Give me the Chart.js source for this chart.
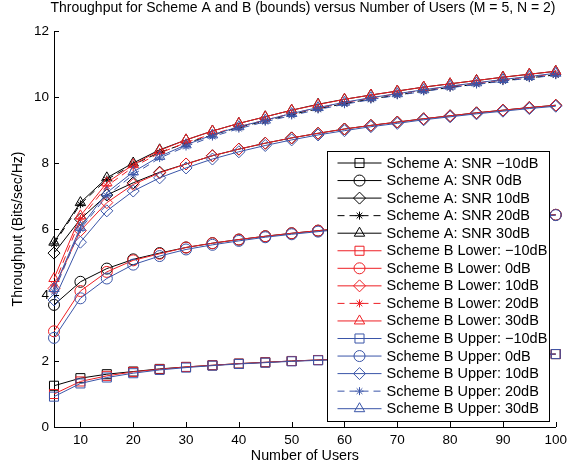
<!DOCTYPE html>
<html><head><meta charset="utf-8">
<script src="https://cdn.jsdelivr.net/npm/chart.js@4/dist/chart.umd.min.js"></script>
<style>html,body{margin:0;padding:0;background:#fff}#wrap{width:572px;height:463px}</style>
</head><body><div id="wrap"><canvas id="c" width="572" height="463"></canvas></div>
<script>
const chartTitle = "Throughput for Scheme A and B (bounds) versus Number of Users (M = 5, N = 2)";
const xLabel = "Number of Users";
const yLabel = "Throughput (Bits/sec/Hz)";
const users = [5,10,15,20,25,30,35,40,45,50,55,60,65,70,75,80,85,90,95,100];
const xTicks = [10,20,30,40,50,60,70,80,90,100];
const yTicks = [0,2,4,6,8,10,12];

const seriesNames = [
  "Scheme A: SNR \u221210dB","Scheme A: SNR 0dB","Scheme A: SNR 10dB","Scheme A: SNR 20dB","Scheme A: SNR 30dB",
  "Scheme B Lower: \u221210dB","Scheme B Lower: 0dB","Scheme B Lower: 10dB","Scheme B Lower: 20dB","Scheme B Lower: 30dB",
  "Scheme B Upper: \u221210dB","Scheme B Upper: 0dB","Scheme B Upper: 10dB","Scheme B Upper: 20dB","Scheme B Upper: 30dB"
];

const aM10 = [1.25,1.48,1.60,1.68,1.76,1.82,1.87,1.92,1.96,2.00,2.03,2.06,2.08,2.10,2.12,2.14,2.16,2.17,2.19,2.21];
const a0   = [3.70,4.40,4.80,5.08,5.27,5.44,5.57,5.68,5.78,5.87,5.95,6.02,6.08,6.14,6.20,6.25,6.30,6.35,6.39,6.43];
const a10  = [5.27,6.30,7.03,7.40,7.72,7.97,8.22,8.42,8.60,8.76,8.90,9.03,9.14,9.24,9.34,9.43,9.52,9.60,9.68,9.75];
const a20  = [5.55,6.75,7.50,7.95,8.32,8.60,8.85,9.08,9.28,9.47,9.64,9.80,9.94,10.06,10.18,10.29,10.39,10.49,10.58,10.67];
const a30  = [5.60,6.80,7.55,8.00,8.40,8.70,8.97,9.20,9.40,9.60,9.78,9.93,10.06,10.18,10.30,10.40,10.50,10.60,10.69,10.78];

const lM10 = [1.00,1.38,1.55,1.67,1.75,1.82,1.87,1.92,1.96,2.00,2.03,2.06,2.08,2.10,2.12,2.14,2.16,2.17,2.19,2.21];
const l0   = [2.90,4.12,4.70,5.05,5.25,5.44,5.57,5.68,5.78,5.87,5.95,6.02,6.08,6.14,6.20,6.25,6.30,6.35,6.39,6.43];
const l10  = [4.20,5.95,6.80,7.35,7.70,7.97,8.22,8.42,8.60,8.76,8.90,9.03,9.14,9.24,9.34,9.43,9.52,9.60,9.68,9.75];
const l20  = [4.30,6.30,7.30,7.88,8.30,8.62,8.88,9.10,9.30,9.50,9.67,9.83,9.97,10.10,10.21,10.32,10.42,10.52,10.61,10.70];
const l30  = [4.50,6.40,7.40,7.95,8.38,8.70,8.97,9.20,9.40,9.60,9.77,9.93,10.06,10.18,10.30,10.40,10.50,10.60,10.69,10.78];

const uM10 = [0.92,1.32,1.50,1.63,1.73,1.80,1.86,1.91,1.95,1.99,2.02,2.05,2.08,2.10,2.12,2.14,2.16,2.17,2.19,2.21];
const u0   = [2.70,3.90,4.50,4.92,5.18,5.38,5.52,5.64,5.75,5.84,5.92,6.00,6.07,6.13,6.19,6.24,6.29,6.34,6.38,6.42];
const u10  = [3.85,5.60,6.55,7.15,7.55,7.85,8.12,8.34,8.53,8.70,8.85,8.98,9.10,9.20,9.31,9.40,9.49,9.57,9.65,9.72];
const u20  = [4.10,6.00,7.00,7.65,8.15,8.50,8.80,9.04,9.25,9.44,9.62,9.78,9.92,10.05,10.17,10.28,10.38,10.48,10.57,10.66];
const u30  = [4.20,6.05,7.10,7.73,8.20,8.55,8.85,9.10,9.30,9.50,9.68,9.84,9.98,10.10,10.22,10.33,10.43,10.53,10.62,10.72];

const seriesValues = [aM10,a0,a10,a20,a30,lM10,l0,l10,l20,l30,uM10,u0,u10,u20,u30];
const colors = ['#000000','#ee1f24','#3a55a8'];
const styles = ['rect','circle','rectRot','star','triangle'];
const radii = [6.4,5.5,6,4,6];

const FONT = "'Liberation Sans', Arial, Helvetica, sans-serif";

const datasets = seriesValues.map((vals, i) => {
  const g = Math.floor(i/5), k = i%5;
  return {
    label: seriesNames[i],
    data: users.map((u, j) => ({x: u, y: vals[j]})),
    borderColor: colors[g],
    backgroundColor: 'rgba(0,0,0,0)',
    borderWidth: 1,
    borderDash: k === 3 ? [7,5] : [],
    pointStyle: styles[k],
    pointRadius: radii[k],
    pointHoverRadius: radii[k],
    pointBorderWidth: 1,
    pointBorderColor: colors[g],
    pointBackgroundColor: 'rgba(0,0,0,0)',
    tension: 0,
    clip: false,
    order: 2 - g
  };
});

const decor = {
  id: 'decor',
  afterDraw(chart) {
    const ctx = chart.ctx, ca = chart.chartArea;
    const xs = chart.scales.x, ys = chart.scales.y;
    ctx.save();
    // title
    ctx.fillStyle = '#000';
    ctx.font = "14px " + FONT;
    ctx.textAlign = 'center';
    ctx.textBaseline = 'middle';
    ctx.fillText(chartTitle, 303, 8);
    // inward ticks
    ctx.strokeStyle = '#000';
    ctx.lineWidth = 1;
    ctx.beginPath();
    xTicks.forEach(v => { const px = Math.round(xs.getPixelForValue(v)) + 0.5; ctx.moveTo(px, ca.bottom); ctx.lineTo(px, ca.bottom - 5); });
    yTicks.forEach(v => { const py = Math.round(ys.getPixelForValue(v)) + 0.5; ctx.moveTo(ca.left, py); ctx.lineTo(ca.left + 5, py); });
    ctx.stroke();
    // legend
    const bx = ca.left + 273.5, by = ca.top + 120.5, bw = 222, bh = 270;
    ctx.fillStyle = '#fff';
    ctx.fillRect(bx, by, bw, bh);
    ctx.strokeStyle = '#000';
    ctx.strokeRect(bx, by, bw, bh);
    ctx.font = "14.5px " + FONT;
    ctx.textAlign = 'left';
    chart.data.datasets.forEach((ds, i) => {
      const cy = by + 11.5 + i * 17.55;
      ctx.strokeStyle = ds.borderColor;
      ctx.lineWidth = 1;
      ctx.setLineDash(ds.borderDash);
      ctx.beginPath();
      ctx.moveTo(bx + 10, cy); ctx.lineTo(bx + 54, cy);
      ctx.stroke();
      ctx.setLineDash([]);
      ctx.fillStyle = 'rgba(0,0,0,0)';
      Chart.helpers.drawPoint(ctx, {pointStyle: ds.pointStyle, radius: ds.pointRadius, borderWidth: 1, rotation: 0}, bx + 32, cy);
      ctx.fillStyle = '#000';
      ctx.fillText(ds.label, bx + 59, cy + 0.5);
    });
    ctx.restore();
  }
};

new Chart(document.getElementById('c'), {
  type: 'line',
  data: { datasets },
  options: {
    responsive: false,
    animation: false,
    events: [],
    layout: { padding: { top: 31, right: 16, left: 0, bottom: 0 } },
    plugins: { legend: { display: false }, title: { display: false }, tooltip: { enabled: false } },
    scales: {
      x: {
        type: 'linear', min: 5, max: 100,
        afterFit: s => { s.height = 36; },
        afterBuildTicks: s => { s.ticks = xTicks.map(v => ({value: v})); },
        grid: { display: true, drawOnChartArea: false, drawTicks: false },
        border: { display: true, color: '#000', width: 1 },
        ticks: { color: '#000', font: { family: FONT, size: 13.5 }, padding: 5, maxRotation: 0, autoSkip: false },
        title: { display: true, text: xLabel, color: '#000', font: { family: FONT, size: 14.3 }, padding: { top: 0, bottom: -2 } }
      },
      y: {
        type: 'linear', min: 0, max: 12,
        afterFit: s => { s.width = 54; },
        afterBuildTicks: s => { s.ticks = yTicks.map(v => ({value: v})); },
        grid: { display: true, drawOnChartArea: false, drawTicks: false },
        border: { display: true, color: '#000', width: 1 },
        ticks: { color: '#000', font: { family: FONT, size: 13.5 }, padding: 5 },
        title: { display: true, text: yLabel, color: '#000', font: { family: FONT, size: 14 }, padding: { top: 10, bottom: 0 } }
      }
    }
  },
  plugins: [decor]
});
</script></body></html>
